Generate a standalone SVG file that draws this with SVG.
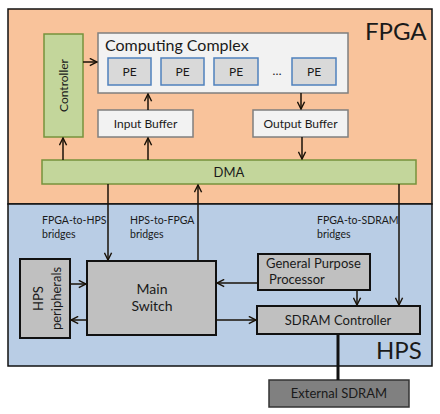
<svg xmlns="http://www.w3.org/2000/svg" width="440" height="414" viewBox="0 0 440 414">
<defs>
<marker id="ah" viewBox="0 0 10 10" refX="9" refY="5" markerWidth="9" markerHeight="9" markerUnits="userSpaceOnUse" orient="auto">
<path d="M1,1 L9,5 L1,9" fill="none" stroke="#1a1208" stroke-width="1.6"/>
</marker>
<style>
text{font-family:Lato,"Open Sans","Liberation Sans",sans-serif;fill:#1a1a1a}
.green{fill:#C3D69B;stroke:#77933C;stroke-width:1.5}
.wbox{fill:#F2F2F2;stroke:#7F7F7F;stroke-width:1.5}
.pe{fill:#D9D9D9;stroke:#4F81BD;stroke-width:1.5}
.gbox{fill:#C0C0C0;stroke:#111;stroke-width:2}
.t12{font-size:12px;text-anchor:middle}
.t11{font-size:10.5px}
.t14{font-size:14px;text-anchor:middle}
.con{stroke:#1a1208;stroke-width:1.5;fill:none}
.arr{marker-end:url(#ah)}
</style>
</defs>
<g id="fpga">
<rect x="8" y="9" width="424" height="195" fill="#F9C39B" stroke="#111" stroke-width="1.5"/>
<text x="365" y="40" style="font-size:24px">FPGA</text>
</g>
<g id="hps">
<rect x="8" y="204" width="424" height="162" fill="#B9CDE5" stroke="#111" stroke-width="1.5"/>
<text x="376" y="359" style="font-size:24px">HPS</text>
</g>
<g id="controller">
<rect class="green" x="44" y="34" width="39" height="103"/>
<text class="t12" transform="translate(67.5,85.5) rotate(-90)">Controller</text>
</g>
<g id="computing-complex">
<rect class="wbox" x="98" y="33" width="250" height="60"/>
<text x="105" y="51" style="font-size:16px">Computing Complex</text>
</g>
<g id="pe1"><rect class="pe" x="108" y="58" width="43" height="27"/><text class="t12" x="129.5" y="76">PE</text></g>
<g id="pe2"><rect class="pe" x="161" y="58" width="43" height="27"/><text class="t12" x="182.5" y="76">PE</text></g>
<g id="pe3"><rect class="pe" x="214" y="58" width="44" height="27"/><text class="t12" x="236" y="76">PE</text></g>
<g id="dots"><text class="t12" x="277" y="75">…</text></g>
<g id="pe4"><rect class="pe" x="292" y="58" width="44" height="27"/><text class="t12" x="314" y="76">PE</text></g>
<g id="input-buffer"><rect class="wbox" x="98" y="110" width="95" height="27"/><text class="t12" x="145.5" y="128">Input Buffer</text></g>
<g id="output-buffer"><rect class="wbox" x="253" y="110" width="95" height="27"/><text class="t12" x="300.5" y="128">Output Buffer</text></g>
<g id="dma"><rect class="green" x="42" y="160" width="374" height="24"/><text class="t12" style="font-size:13px" x="229" y="177">DMA</text></g>
<g id="hps-peripherals">
<rect class="gbox" x="20" y="259" width="50" height="79"/>
<text class="t14" style="font-size:13px" transform="translate(43,298.5) rotate(-90)">HPS</text>
<text class="t14" style="font-size:13px" transform="translate(61,298.5) rotate(-90)">peripherals</text>
</g>
<g id="main-switch">
<rect class="gbox" x="87" y="261" width="129" height="74"/>
<text class="t14" x="152" y="294">Main</text>
<text class="t14" x="152" y="311">Switch</text>
</g>
<g id="gpp">
<rect class="gbox" x="258" y="254" width="112" height="36"/>
<text x="266" y="268" style="font-size:13px">General Purpose</text>
<text x="269" y="284" style="font-size:13px">Processor</text>
</g>
<g id="sdram-controller">
<rect class="gbox" x="257" y="306" width="163" height="28"/>
<text class="t14" style="font-size:13px" x="338" y="325">SDRAM Controller</text>
</g>
<g id="external-sdram">
<rect x="269" y="380" width="140" height="27" fill="#808080" stroke="#333" stroke-width="1.5"/>
<text class="t14" style="font-size:13px" x="339" y="398">External SDRAM</text>
</g>
<g id="labels">
<text class="t11" x="42" y="224">FPGA-to-HPS</text>
<text class="t11" x="42" y="238">bridges</text>
<text class="t11" x="130" y="224">HPS-to-FPGA</text>
<text class="t11" x="130" y="238">bridges</text>
<text class="t11" x="317" y="224">FPGA-to-SDRAM</text>
<text class="t11" x="317" y="238">bridges</text>
</g>
<g id="connectors">
<line class="con arr" x1="83" y1="62" x2="97" y2="62"/>
<line class="con arr" x1="148" y1="110" x2="148" y2="94"/>
<line class="con arr" x1="301" y1="93" x2="301" y2="109"/>
<line class="con arr" x1="63" y1="160" x2="63" y2="138"/>
<line class="con arr" x1="148" y1="160" x2="148" y2="138"/>
<line class="con arr" x1="302" y1="137" x2="302" y2="159"/>
<line class="con arr" x1="108" y1="184" x2="108" y2="260"/>
<line class="con arr" x1="198" y1="261" x2="198" y2="185"/>
<line class="con arr" x1="399" y1="184" x2="399" y2="305"/>
<line class="con arr" x1="258" y1="283" x2="217" y2="283"/>
<line class="con arr" x1="357" y1="290" x2="357" y2="305"/>
<line class="con arr" x1="216" y1="320" x2="256" y2="320"/>
<line class="con arr" x1="70" y1="284" x2="86" y2="284"/>
<line class="con arr" x1="87" y1="320" x2="71" y2="320"/>
<line x1="338" y1="334" x2="338" y2="380" stroke="#111" stroke-width="3"/>
</g>
</svg>
